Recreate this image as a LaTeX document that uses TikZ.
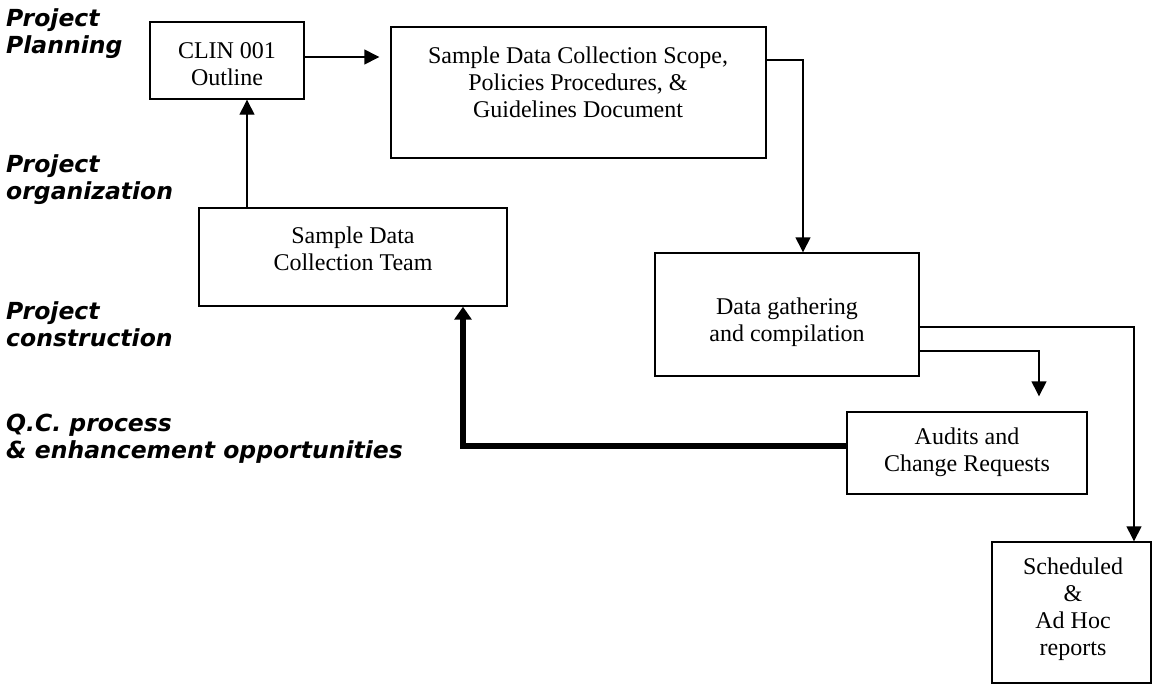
\documentclass[tikz,border=0pt]{standalone}
\usepackage{fontspec}
\setmainfont{Liberation Serif}
\newfontfamily\lblfont{DejaVu Sans}
\usetikzlibrary{arrows.meta}
\begin{document}
\begin{tikzpicture}[x=1pt,y=-1pt,
  box/.style={draw, line width=1.4pt, rectangle, inner sep=0pt},
  txt/.style={align=center, inner sep=0pt, font=\fontsize{24}{27}\selectfont},
  lbl/.style={anchor=west, align=left, inner sep=0pt, font=\lblfont\bfseries\itshape\fontsize{23.5}{27.5}\selectfont},
  conn/.style={line width=1.4pt, -{Triangle[length=15pt,width=15pt]}},
  qcconn/.style={line width=6pt, line join=miter, -{Triangle[length=13pt,width=17pt]}}]
\useasboundingbox (0,0) rectangle (1154,686);

% labels
\node[lbl] (l1) at (6,33.5) {Project\\Planning};
\node[lbl] (l2) at (6,179.5) {Project\\organization};
\node[lbl] (l3) at (6,324) {Project\\construction};
\node[lbl] (l4) at (6,438.5) {Q.C. process\\\& enhancement opportunities};

% boxes
\node[box, minimum width=154pt, minimum height=77pt] (clin) at (227,60.5) {};
\node[box, minimum width=375pt, minimum height=131pt] (scope) at (578.5,92.5) {};
\node[box, minimum width=308pt, minimum height=98pt] (team) at (353,257) {};
\node[box, minimum width=264pt, minimum height=123pt] (dg) at (787,314.5) {};
\node[box, minimum width=240pt, minimum height=82pt] (audits) at (967,453) {};
\node[box, minimum width=159pt, minimum height=141pt] (reports) at (1071.5,612.5) {};

% texts
\node[txt] (tclin) at (227,64) {CLIN 001\\Outline};
\node[txt] (tscope) at (578,82) {Sample Data Collection Scope,\\Policies Procedures, \&\\Guidelines Document};
\node[txt] (tteam) at (353,248.5) {Sample Data\\Collection Team};
\node[txt] (tdg) at (787,322) {Data gathering\\and compilation};
\node[txt] (taud) at (967,452) {Audits and\\Change Requests};
\node[txt] (trep) at (1073,609) {Scheduled\\\&\\Ad Hoc\\reports};

% connectors
\draw[conn, shorten >=11pt] ([yshift=3.5pt]clin.east) -- ([yshift=3.5pt]clin.east -| scope.west);
\draw[conn] ([yshift=32.5pt]scope.east) -| ([xshift=16pt]dg.north);
\draw[conn] ([xshift=20pt]clin.south |- team.north) -- ([xshift=20pt]clin.south);
\draw[conn] ([yshift=-12.5pt]dg.east) -| ([xshift=62.5pt]reports.north);
\draw[conn, shorten >=15pt] ([yshift=-36.5pt]dg.east) -| ([xshift=72pt]audits.north);
\draw[qcconn] ([yshift=7pt]audits.west) -| ([xshift=110pt]team.south);
\end{tikzpicture}
\end{document}
